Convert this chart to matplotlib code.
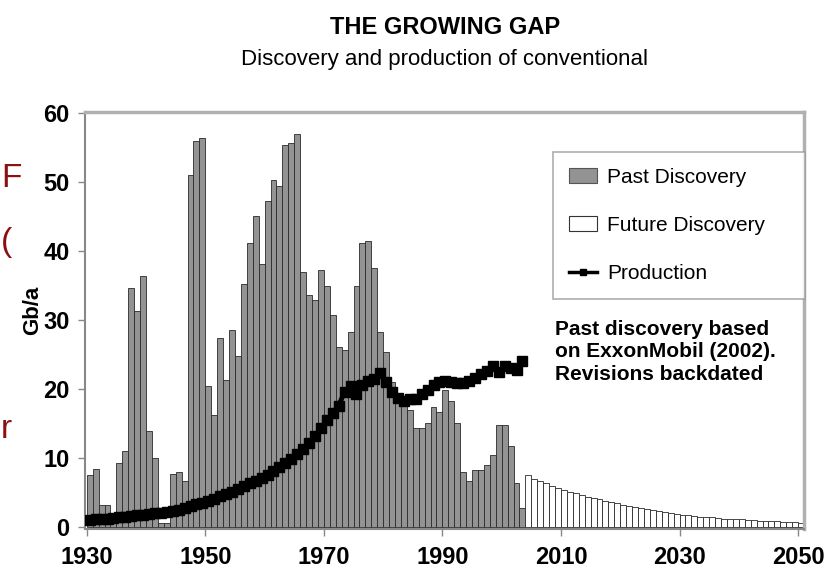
import matplotlib
matplotlib.use("Agg")
import matplotlib.pyplot as plt
from matplotlib.patches import Patch
from matplotlib.lines import Line2D
from matplotlib import font_manager

names = {f.name for f in font_manager.fontManager.ttflist}
NARROW = 'Liberation Sans Narrow' if 'Liberation Sans Narrow' in names else 'Liberation Sans'
plt.rcParams['font.family'] = [NARROW, 'DejaVu Sans']

past_years = list(range(1930, 2004))
past_discovery = [7.5, 8.4, 3.2, 3.2, 0.5, 9.3, 11.0, 34.6, 31.3, 36.4,
                  13.9, 10.0, 0.5, 0.5, 7.7, 7.9, 6.6, 51.0, 56.0, 56.4,
                  20.4, 16.2, 27.4, 21.3, 28.5, 24.8, 35.2, 41.2, 45.1, 38.1,
                  47.3, 50.3, 49.4, 55.4, 55.7, 57.0, 36.9, 33.6, 32.9, 37.2,
                  34.9, 30.7, 26.1, 25.7, 28.3, 34.9, 41.2, 41.4, 37.6, 28.3,
                  25.4, 21.0, 19.0, 17.5, 17.0, 14.4, 14.3, 15.0, 17.4, 16.6,
                  19.9, 18.2, 15.1, 8.0, 6.6, 8.3, 8.3, 9.0, 10.4, 14.8,
                  14.8, 11.7, 6.3, 2.7]

future_years = list(range(2004, 2051))
future_discovery = [7.5, 7.0, 6.7, 6.3, 6.0, 5.7, 5.4, 5.1, 4.9, 4.6,
                    4.4, 4.2, 4.0, 3.8, 3.6, 3.4, 3.2, 3.0, 2.9, 2.7,
                    2.6, 2.4, 2.3, 2.2, 2.0, 1.9, 1.8, 1.7, 1.6, 1.5,
                    1.4, 1.4, 1.3, 1.2, 1.2, 1.1, 1.1, 1.0, 1.0, 0.9,
                    0.9, 0.8, 0.8, 0.7, 0.7, 0.7, 0.6]

production_years = list(range(1930, 2004))
production = [1.0, 1.1, 1.1, 1.2, 1.3, 1.4, 1.5, 1.6, 1.7, 1.8,
              1.9, 2.0, 2.0, 2.1, 2.3, 2.4, 2.7, 3.0, 3.3, 3.5,
              3.8, 4.1, 4.5, 4.8, 5.1, 5.5, 5.9, 6.3, 6.6, 7.1,
              7.6, 8.1, 8.7, 9.3, 9.9, 10.6, 11.3, 12.2, 13.2, 14.3,
              15.5, 16.5, 17.6, 19.6, 20.4, 19.3, 20.6, 21.1, 21.4, 22.3,
              21.0, 19.6, 18.7, 18.3, 18.6, 18.5, 19.3, 19.8, 20.6, 21.0,
              21.2, 21.0, 20.9, 20.9, 21.1, 21.6, 22.1, 22.6, 23.3, 22.4,
              23.3, 23.0, 22.8, 24.0]

x_ticks = [1930, 1950, 1970, 1990, 2010, 2030, 2050]
y_ticks = [0, 10, 20, 30, 40, 50, 60]

W, H = 837, 580
fig = plt.figure(figsize=(W / 100, H / 100), dpi=100)
ax = fig.add_axes([85 / W, 1 - 529 / H, (804 - 85) / W, (529 - 112) / H])

ax.bar(past_years, past_discovery, width=1.0, align='edge', color='#939393',
       edgecolor='#2a2a2a', linewidth=0.6, zorder=2)
ax.bar(future_years, future_discovery, width=1.0, align='edge', color='white',
       edgecolor='#2a2a2a', linewidth=0.6, zorder=2)
ax.plot([y + 0.5 for y in production_years], production, color='black', lw=3.5,
        marker='s', ms=6.5, mfc='black', mec='black', zorder=3)

ax.set_xlim(1929.7, 2051)
ax.set_ylim(-0.3, 60.15)
ax.set_xticks(x_ticks)
ax.set_yticks(y_ticks)
ax.set_xticklabels([str(t) for t in x_ticks], fontsize=17, fontweight='bold')
ax.set_yticklabels([str(t) for t in y_ticks], fontsize=17, fontweight='bold')
ax.tick_params(axis='both', direction='out', length=5, width=1, color='#888888', pad=6)
ax.tick_params(axis='x', pad=7)
for side in ['left', 'bottom']:
    ax.spines[side].set_color('#888888')
    ax.spines[side].set_linewidth(1.5)
for side in ['top', 'right']:
    ax.spines[side].set_color('#b0b0b0')
    ax.spines[side].set_linewidth(2.5)

ax.set_ylabel('Gb/a', fontsize=16, fontweight='bold')
ax.yaxis.set_label_coords(-0.058, 0.525)

fig.text(445 / W, 1 - 28 / H, 'THE GROWING GAP', ha='center', va='center',
         fontsize=17, fontweight='bold')
fig.text(445 / W, 1 - 60 / H, 'Discovery and production of conventional',
         ha='center', va='center', fontsize=16)

handles = [Patch(facecolor='#939393', edgecolor='#555555', linewidth=0.8),
           Patch(facecolor='white', edgecolor='#333333', linewidth=0.8),
           Line2D([], [], color='black', lw=2.5, marker='s', ms=5)]
labels = ['Past Discovery', 'Future Discovery', 'Production']
leg = fig.legend(handles, labels, loc='upper left', mode='expand',
                 bbox_to_anchor=(553 / W, 1 - 295 / H, 252 / W, 143 / H), fontsize=15,
                 frameon=True, fancybox=False, edgecolor='#999999',
                 borderpad=0.75, labelspacing=1.4, handlelength=1.35,
                 handletextpad=0.5, borderaxespad=0.0)
leg.get_frame().set_linewidth(1.2)

fig.text(555 / W, 1 - 320 / H,
         'Past discovery based\non ExxonMobil (2002).\nRevisions backdated',
         ha='left', va='top', fontsize=15, fontweight='bold', linespacing=1.22)

red = '#8b1010'
fig.text(1 / W, 1 - 178 / H, 'F', fontsize=24, color=red, ha='left', va='center')
fig.text(1 / W, 1 - 242 / H, '(', fontsize=24, color=red, ha='left', va='center')
fig.text(1 / W, 1 - 430 / H, 'r', fontsize=24, color=red, ha='left', va='center')

fig.savefig('out.png', dpi=100)
